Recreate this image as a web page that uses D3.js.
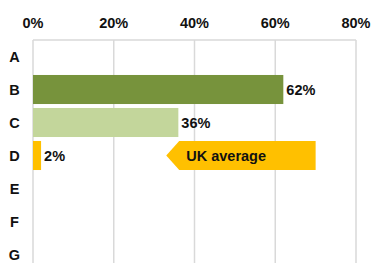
<!DOCTYPE html>
<html>
<head>
<meta charset="utf-8">
<script src="https://cdn.jsdelivr.net/npm/d3@7"></script>
<style>
  body { margin: 0; background: #fff; }
  svg text { font-family: "Liberation Sans", Arial, sans-serif; font-weight: bold; fill: #111; }
</style>
</head>
<body>
<div id="chart"></div>
<script>
var categories = ["A", "B", "C", "D", "E", "F", "G"];
var values = [null, 62, 36, 2, null, null, null];
var barColors = [null, "#77933C", "#C3D69B", "#FFC000", null, null, null];
var tickValues = [0, 20, 40, 60, 80];
// UK average callout (in % units), sits on row D
var ukRow = "D";
var ukFrom = 33, ukTo = 70;
var ukLabel = "UK average";

var width = 372, height = 263;
var margin = {left: 33, right: 16, top: 40};
var fontSize = "14.5px";

var svg = d3.select("#chart").append("svg")
    .attr("width", width).attr("height", height);

var x = d3.scaleLinear().domain([0, 80]).range([margin.left, width - margin.right]);
var y = d3.scaleBand().domain(categories).range([margin.top, margin.top + 231])
    .paddingInner(0.12).paddingOuter(0.06);

// gridlines
svg.selectAll("line.grid")
    .data(tickValues)
    .join("line").attr("class", "grid")
    .attr("x1", d => x(d)).attr("x2", d => x(d))
    .attr("y1", margin.top).attr("y2", height)
    .attr("stroke", "#D9D9D9").attr("stroke-width", 1.5);

// top border
svg.append("line")
    .attr("x1", x(0)).attr("x2", x(80))
    .attr("y1", margin.top).attr("y2", margin.top)
    .attr("stroke", "#D9D9D9").attr("stroke-width", 1.5);

// top axis labels
svg.selectAll("text.xtick")
    .data(tickValues)
    .join("text").attr("class", "xtick")
    .attr("x", d => x(d))
    .attr("y", 28)
    .attr("text-anchor", "middle")
    .style("font-size", fontSize)
    .text(d => d + "%");

// category labels
svg.selectAll("text.ytick")
    .data(categories)
    .join("text").attr("class", "ytick")
    .attr("x", 14.5)
    .attr("y", d => y(d) + y.bandwidth() / 2)
    .attr("dy", "0.35em")
    .attr("text-anchor", "middle")
    .style("font-size", fontSize)
    .text(d => d);

var bars = categories.map((c, i) => ({cat: c, val: values[i], color: barColors[i]}))
    .filter(d => d.val != null);

svg.selectAll("rect.bar")
    .data(bars)
    .join("rect").attr("class", "bar")
    .attr("x", x(0))
    .attr("y", d => y(d.cat))
    .attr("width", d => x(d.val) - x(0))
    .attr("height", y.bandwidth())
    .attr("fill", d => d.color);

svg.selectAll("text.val")
    .data(bars)
    .join("text").attr("class", "val")
    .attr("x", d => x(d.val) + 3)
    .attr("y", d => y(d.cat) + y.bandwidth() / 2)
    .attr("dy", "0.35em")
    .style("font-size", fontSize)
    .text(d => d.val + "%");

// UK average arrow
var ay0 = y(ukRow), ay1 = y(ukRow) + y.bandwidth(), amid = (ay0 + ay1) / 2;
var head = 13;
var pts = [[x(ukFrom), amid], [x(ukFrom) + head, ay0], [x(ukTo), ay0], [x(ukTo), ay1], [x(ukFrom) + head, ay1]];
svg.append("path")
    .attr("d", d3.line()(pts) + "Z")
    .attr("fill", "#FFC000");
svg.append("text")
    .attr("x", x(ukFrom) + head + 7)
    .attr("y", amid)
    .attr("dy", "0.35em")
    .style("font-size", fontSize)
    .text(ukLabel);
</script>
</body>
</html>
